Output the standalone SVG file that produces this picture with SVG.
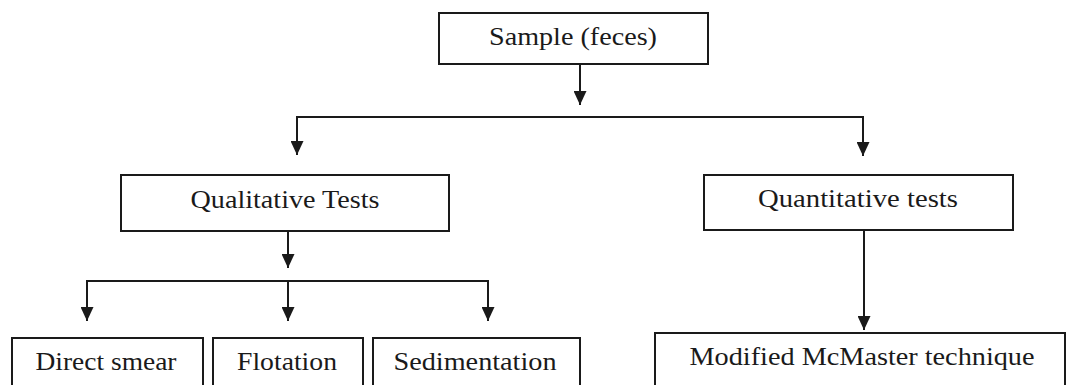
<svg xmlns="http://www.w3.org/2000/svg" width="1067" height="385" viewBox="0 0 1067 385">
<style>
.box{fill:#fff;stroke:#1a1a1a;stroke-width:2}
.lbl{font-family:"Liberation Serif","Times New Roman",serif;font-size:25px;fill:#1a1a1a;text-anchor:middle}
.ln{fill:none;stroke:#1a1a1a;stroke-width:2}
</style>
<defs>
<marker id="ah" markerUnits="userSpaceOnUse" markerWidth="14" markerHeight="13" refX="14" refY="6.5" orient="auto" viewBox="0 0 14 13">
<path d="M0,0 L14,6.5 L0,13 z" fill="#1a1a1a"/>
</marker>
</defs>
<rect width="1067" height="385" fill="#fff"/>
<g id="connectors">
<path class="ln" d="M580,64 V105" marker-end="url(#ah)"/>
<path class="ln" d="M297,155 V117 H863 V156" marker-end="url(#ah)"/>
<path class="ln" d="M297,117 V155" marker-end="url(#ah)"/>
<path class="ln" d="M288,231 V268" marker-end="url(#ah)"/>
<path class="ln" d="M87,321 V281 H488 V321" marker-end="url(#ah)"/>
<path class="ln" d="M87,281 V321" marker-end="url(#ah)"/>
<path class="ln" d="M288,281 V321" marker-end="url(#ah)"/>
<path class="ln" d="M864,230 V330" marker-end="url(#ah)"/>
</g>
<g id="sample">
<rect class="box" x="439" y="13" width="269" height="51"/>
<text class="lbl" x="573" y="45" textLength="168" lengthAdjust="spacingAndGlyphs">Sample (feces)</text>
</g>
<g id="qualitative">
<rect class="box" x="121" y="175" width="328" height="56"/>
<text class="lbl" x="285" y="208" textLength="189" lengthAdjust="spacingAndGlyphs">Qualitative Tests</text>
</g>
<g id="quantitative">
<rect class="box" x="704" y="175" width="309" height="55"/>
<text class="lbl" x="858" y="207" textLength="200" lengthAdjust="spacingAndGlyphs">Quantitative tests</text>
</g>
<g id="direct-smear">
<rect class="box" x="12" y="338" width="191" height="60"/>
<text class="lbl" x="106" y="370" textLength="141" lengthAdjust="spacingAndGlyphs">Direct smear</text>
</g>
<g id="flotation">
<rect class="box" x="213" y="338" width="150" height="60"/>
<text class="lbl" x="287" y="370" textLength="100" lengthAdjust="spacingAndGlyphs">Flotation</text>
</g>
<g id="sedimentation">
<rect class="box" x="373" y="338" width="207" height="60"/>
<text class="lbl" x="475" y="370" textLength="163" lengthAdjust="spacingAndGlyphs">Sedimentation</text>
</g>
<g id="mcmaster">
<rect class="box" x="655" y="333" width="410" height="65"/>
<text class="lbl" x="862" y="365" textLength="345" lengthAdjust="spacingAndGlyphs">Modified McMaster technique</text>
</g>
</svg>
